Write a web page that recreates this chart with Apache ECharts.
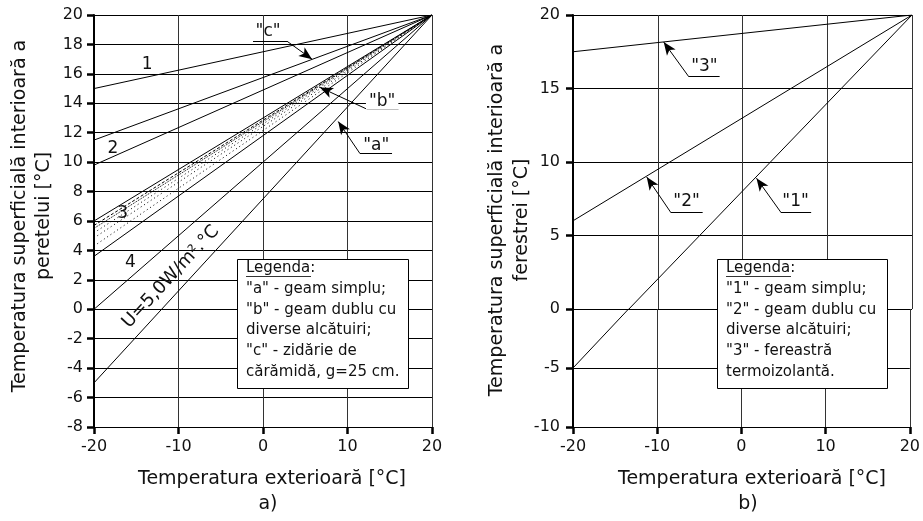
<!DOCTYPE html>
<html><head><meta charset="utf-8">
<script src="https://cdn.jsdelivr.net/npm/echarts@6/dist/echarts.min.js"></script>
<style>html,body{margin:0;padding:0;background:#fff}#c{width:923px;height:521px}</style>
</head><body><div id="c"></div>
<script>
// ---------- DATA ----------
// outdoor temperature range (x) for straight lines
const xEnds = [-20, 20];
// chart a) wall surface temperature: values at x=-20 and x=20
const wallLine1 = [15, 20];
const wallLineC = [11.5, 20];
const wallLine2 = [9.8, 20];
const band3Top = [6.0, 20];
const band3DashA = [5.7, 20];
const band3DashB = [5.5, 20];
const band3Dot1 = [5.2, 20];
const band3Dot2 = [4.85, 20];
const band3Dot3 = [4.3, 20];
const band3Bottom = [3.6, 20];
const wallLine4 = [0, 20];
const wallLineA = [-5, 20];
// chart b) window surface temperature
const win1X = [-20, -13.4, 20];
const winLine1 = [-5, 0, 20];
const winLine2 = [6, 20];
const winLine3 = [17.5, 20];

const lineTagsA = ['1', '2', '3', '4'];
const uLabel = 'U=5,0W/m².°C';
const legendA = ['Legenda:', '"a" - geam simplu;', '"b" - geam dublu cu', 'diverse alcătuiri;', '"c" - zidărie de', 'cărămidă, g=25 cm.'];
const legendB = ['Legenda:', '"1" - geam simplu;', '"2" - geam dublu cu', 'diverse alcătuiri;', '"3" - fereastră', 'termoizolantă.'];
const yTitleA = 'Temperatura superficială interioară a\nperetelui [°C]';
const yTitleB = 'Temperatura superficială interioară a\nferestrei [°C]';
const xTitle = 'Temperatura exterioară [°C]';

// ---------- LAYOUT / STYLE ----------
const FONT = '"DejaVu Sans", Verdana, sans-serif';
const tagPosA = [[-13.7, 16.6], [-17.75, 10.9], [-16.6, 6.5], [-15.7, 3.2]];
const uPos = [-10.9, 2.2];
const annA = [
  {text: '"c"', pos: [0.6, 18.84], under: [[-1.18, 18.22], [2.84, 18.22]], from: [2.84, 18.22], tip: [5.8, 17.0]},
  {text: '"b"', pos: [14.1, 14.13], under: [[12.3, 13.6], [16.0, 13.6]], from: [12.3, 13.6], tip: [6.75, 15.08], bg: true},
  {text: '"a"', pos: [13.4, 11.13], under: [[11.48, 10.58], [15.27, 10.58]], from: [11.48, 10.58], tip: [8.9, 12.76]}
];
const annB = [
  {text: '"3"', pos: [-4.5, 16.5], under: [[-6.4, 15.85], [-2.7, 15.85]], from: [-6.4, 15.85], tip: [-9.3, 18.16]},
  {text: '"2"', pos: [-6.6, 7.28], under: [[-8.5, 6.6], [-4.7, 6.6]], from: [-8.5, 6.6], tip: [-11.3, 8.98]},
  {text: '"1"', pos: [6.26, 7.28], under: [[4.5, 6.6], [8.1, 6.6]], from: [4.5, 6.6], tip: [1.65, 8.9]}
];

function pts(xs, ys) { return xs.map((x, i) => [x, ys[i]]); }

function lineSeries(xi, yi, data, type) {
  return {
    type: 'line', xAxisIndex: xi, yAxisIndex: yi, data: data, symbol: 'none', silent: true,
    animation: false, clip: true, z: 3,
    lineStyle: {color: '#000', width: 1, type: type || 'solid'}
  };
}

const labelBase = {show: true, position: 'inside', color: '#111', fontSize: 17, fontFamily: FONT,
  opacity: 1, textBorderWidth: 0};

function annSeries(xi, yi, anns) {
  const md = [];
  anns.forEach(a => {
    md.push([{coord: a.under[0], symbol: 'none'}, {coord: a.under[1], symbol: 'none'}]);
    md.push([{coord: a.from, symbol: 'none'}, {coord: a.tip, symbol: 'arrow', symbolSize: [8, 13]}]);
  });
  return {
    type: 'scatter', xAxisIndex: xi, yAxisIndex: yi, silent: true, animation: false, z: 6,
    symbolSize: 1, itemStyle: {color: 'transparent', opacity: 1},
    data: anns.map(a => ({value: a.pos, label: {formatter: a.text,
      backgroundColor: a.bg ? '#fff' : 'transparent', padding: a.bg ? [0, 3] : 0}})),
    label: labelBase,
    markLine: {silent: true, animation: false, symbol: ['none', 'none'], label: {show: false},
      emphasis: {disabled: true},
      lineStyle: {color: '#000', width: 1, type: 'solid', opacity: 1}, data: md}
  };
}

function tagSeries(xi, yi, items) {
  return {
    type: 'scatter', xAxisIndex: xi, yAxisIndex: yi, silent: true, animation: false, z: 6,
    symbolSize: 1, itemStyle: {color: 'transparent', opacity: 1},
    data: items,
    label: labelBase
  };
}

const axisLabelStyle = {color: '#111', fontSize: 16, fontFamily: FONT};
const tickStyle = {show: true, inside: false, length: 7, lineStyle: {color: '#000', width: 2.5}};
const splitStyle = {show: true, lineStyle: {color: '#000', width: 1}};
const vSplitStyle = {show: true, lineStyle: {color: '#333', width: 1}};

const option = {
  backgroundColor: '#fff',
  animation: false,
  grid: [
    {left: 94, top: 15, width: 338, height: 412},
    {left: 573, top: 15, width: 339, height: 294},
    {left: 573, top: 309, width: 339, height: 118}
  ],
  xAxis: [
    {gridIndex: 0, type: 'value', min: -20, max: 20, interval: 10,
      axisLine: {show: true, onZero: false, lineStyle: {color: '#000', width: 1}},
      axisTick: tickStyle, axisLabel: Object.assign({margin: 12}, axisLabelStyle), splitLine: vSplitStyle},
    {gridIndex: 1, type: 'value', min: -20, max: 20, interval: 10,
      axisLine: {show: false}, axisTick: {show: false}, axisLabel: {show: false}, splitLine: vSplitStyle},
    {gridIndex: 2, type: 'value', min: -20, max: 20, interval: 10,
      axisLine: {show: true, onZero: false, lineStyle: {color: '#000', width: 1}},
      axisTick: tickStyle, axisLabel: Object.assign({margin: 12}, axisLabelStyle), splitLine: vSplitStyle}
  ],
  yAxis: [
    {gridIndex: 0, type: 'value', min: -8, max: 20, interval: 2,
      axisLine: {show: true, onZero: false, lineStyle: {color: '#000', width: 2}},
      axisTick: tickStyle, axisLabel: Object.assign({margin: 11}, axisLabelStyle), splitLine: splitStyle},
    {gridIndex: 1, type: 'value', min: 0, max: 20, interval: 5,
      axisLine: {show: true, onZero: false, lineStyle: {color: '#000', width: 2}},
      axisTick: tickStyle, axisLabel: Object.assign({margin: 13}, axisLabelStyle), splitLine: splitStyle},
    {gridIndex: 2, type: 'value', min: -10, max: 0, interval: 5,
      axisLine: {show: true, onZero: false, lineStyle: {color: '#000', width: 2}},
      axisTick: tickStyle, axisLabel: Object.assign({margin: 13, showMaxLabel: false}, axisLabelStyle), splitLine: splitStyle}
  ],
  series: [
    lineSeries(0, 0, pts(xEnds, wallLine1)),
    lineSeries(0, 0, pts(xEnds, wallLineC)),
    lineSeries(0, 0, pts(xEnds, wallLine2)),
    lineSeries(0, 0, pts(xEnds, band3Top)),
    lineSeries(0, 0, pts(xEnds, band3DashA), [3, 2]),
    lineSeries(0, 0, pts(xEnds, band3DashB), [1, 1]),
    lineSeries(0, 0, pts(xEnds, band3Dot1), [1, 3]),
    lineSeries(0, 0, pts(xEnds, band3Dot2), [1, 3]),
    lineSeries(0, 0, pts(xEnds, band3Dot3), [1, 3]),
    lineSeries(0, 0, pts(xEnds, band3Bottom)),
    lineSeries(0, 0, pts(xEnds, wallLine4)),
    lineSeries(0, 0, pts(xEnds, wallLineA)),
    lineSeries(1, 1, pts(win1X, winLine1)),
    lineSeries(2, 2, pts(win1X, winLine1)),
    lineSeries(1, 1, pts(xEnds, winLine2)),
    lineSeries(1, 1, pts(xEnds, winLine3)),
    tagSeries(0, 0, lineTagsA.map((t, i) => ({value: tagPosA[i], label: {formatter: t}}))),
    tagSeries(0, 0, [{value: uPos, label: {formatter: uLabel, rotate: 47, fontSize: 18}}]),
    annSeries(0, 0, annA),
    annSeries(1, 1, annB)
  ],
  graphic: [
    {type: 'text', x: 32, y: 216, rotation: Math.PI / 2, z: 100,
      style: {text: yTitleA, font: '19px ' + FONT, fill: '#111', align: 'center', verticalAlign: 'middle', lineHeight: 24}},
    {type: 'text', x: 510, y: 220, rotation: Math.PI / 2, z: 100,
      style: {text: yTitleB, font: '19px ' + FONT, fill: '#111', align: 'center', verticalAlign: 'middle', lineHeight: 25}},
    {type: 'text', x: 272, y: 479, z: 100, style: {text: xTitle, font: '19px ' + FONT, fill: '#111', align: 'center', verticalAlign: 'middle'}},
    {type: 'text', x: 268, y: 504, z: 100, style: {text: 'a)', font: '19px ' + FONT, fill: '#111', align: 'center', verticalAlign: 'middle'}},
    {type: 'text', x: 752, y: 479, z: 100, style: {text: xTitle, font: '19px ' + FONT, fill: '#111', align: 'center', verticalAlign: 'middle'}},
    {type: 'text', x: 748, y: 504, z: 100, style: {text: 'b)', font: '19px ' + FONT, fill: '#111', align: 'center', verticalAlign: 'middle'}},
    {type: 'rect', z: 100, shape: {x: 237.5, y: 259.5, width: 171, height: 129}, style: {fill: '#fff', stroke: '#000', lineWidth: 1}},
    {type: 'text', z: 101, x: 246, y: 258, style: {text: legendA.join('\n'), font: '15px ' + FONT, fill: '#111', align: 'left', verticalAlign: 'top', lineHeight: 20.7}},
    {type: 'line', z: 101, shape: {x1: 246, y1: 276.5, x2: 311, y2: 276.5}, style: {stroke: '#333', lineWidth: 1}},
    {type: 'rect', z: 100, shape: {x: 717.5, y: 259.5, width: 170, height: 129}, style: {fill: '#fff', stroke: '#000', lineWidth: 1}},
    {type: 'text', z: 101, x: 726, y: 258, style: {text: legendB.join('\n'), font: '15px ' + FONT, fill: '#111', align: 'left', verticalAlign: 'top', lineHeight: 20.7}},
    {type: 'line', z: 101, shape: {x1: 726, y1: 276.5, x2: 791, y2: 276.5}, style: {stroke: '#333', lineWidth: 1}}
  ]
};

const chart = echarts.init(document.getElementById('c'), null, {renderer: 'canvas'});
chart.setOption(option);
</script>
</body></html>
